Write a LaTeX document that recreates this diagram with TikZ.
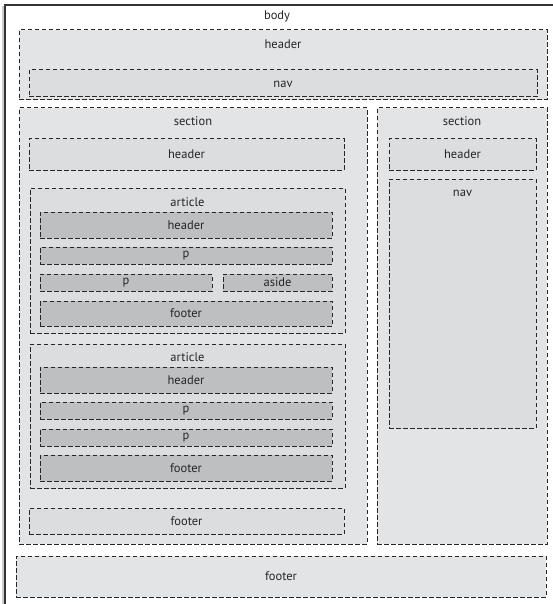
\documentclass[tikz,border=0pt]{standalone}
\usepackage{fontspec}
\setmainfont{PT Sans}
\usetikzlibrary{fit}
\definecolor{outerfill}{HTML}{E3E4E6}
\definecolor{midfill}{HTML}{DCDDDF}
\definecolor{darkfill}{HTML}{BEBFC1}
\definecolor{linec}{HTML}{262626}
\definecolor{textc}{HTML}{262626}
\tikzset{
  x=1pt, y=-1pt,
  dbox/.style={draw=linec, line width=1pt, dash pattern=on 4.5pt off 2.5pt, inner sep=0pt},
  lvl1/.style={dbox, fill=outerfill},
  lvl2/.style={dbox, fill=midfill},
  lvl3/.style={dbox, fill=darkfill},
  lbl/.style={font=\fontsize{12.5}{14}\selectfont, text=textc, inner sep=0pt, anchor=center},
}
\begin{document}
\begin{tikzpicture}
\useasboundingbox (0,0) rectangle (553,604);
% body frame
\draw[line width=2pt, black!20] (2.5,6) -- (2.5,604);
\draw[line width=1.2pt, black!80] (5,604) -- (5,5) -- (553,5);
\node[lbl] (bodyl) at (277,16) {body};
% top header
\node[lvl1, fit={(19,30) (547,100)}] (hdr) {};
\node[lbl] (hdrl) at (283,44) {header};
\node[lvl2, fit={(29,70) (537,97)}] (nav) {};
\node[lbl] (navl) at (283,84) {nav};
% left section
\node[lvl1, fit={(19,108) (367,544)}] (secL) {};
\node[lbl] (secLl) at (193,121) {section};
\node[lvl2, fit={(29,139) (344,170)}] (secLh) {};
\node[lbl] at (secLh.center) {header};
% article 1
\node[lvl2, fit={(30,188) (345,333)}] (art1) {};
\node[lbl] (art1l) at (187.5,202) {article};
\node[lvl3, fit={(40,212) (332,238)}] (a1h) {};
\node[lbl] at (a1h.center) {header};
\node[lvl3, fit={(40,247) (332,264)}] (a1p1) {};
\node[lbl] at (a1p1.center) {p};
\node[lvl3, fit={(40,274) (212,291)}] (a1p2) {};
\node[lbl] at (a1p2.center) {p};
\node[lvl3, fit={(223,274) (332,291)}] (a1as) {};
\node[lbl] at (a1as.center) {aside};
\node[lvl3, fit={(40,301) (332,326)}] (a1f) {};
\node[lbl] at (a1f.center) {footer};
% article 2
\node[lvl2, fit={(30,344) (345,488)}] (art2) {};
\node[lbl] (art2l) at (187.5,357) {article};
\node[lvl3, fit={(40,367) (332,393)}] (a2h) {};
\node[lbl] at (a2h.center) {header};
\node[lvl3, fit={(40,402) (332,419)}] (a2p1) {};
\node[lbl] at (a2p1.center) {p};
\node[lvl3, fit={(40,429) (332,446)}] (a2p2) {};
\node[lbl] at (a2p2.center) {p};
\node[lvl3, fit={(40,455) (332,481)}] (a2f) {};
\node[lbl] at (a2f.center) {footer};
% section footer
\node[lvl2, fit={(29,508) (344,534)}] (secLf) {};
\node[lbl] at (secLf.center) {footer};
% right section
\node[lvl1, fit={(377,108) (547,544)}] (secR) {};
\node[lbl] (secRl) at (462,121) {section};
\node[lvl2, fit={(389,139) (536,170)}] (secRh) {};
\node[lbl] at (secRh.center) {header};
\node[lvl2, fit={(389,179) (536,428)}] (secRn) {};
\node[lbl] (secRnl) at (462.5,193) {nav};
% bottom footer
\node[lvl1, fit={(16,556) (546,597)}] (ftr) {};
\node[lbl] at (ftr.center) {footer};
\end{tikzpicture}
\end{document}
